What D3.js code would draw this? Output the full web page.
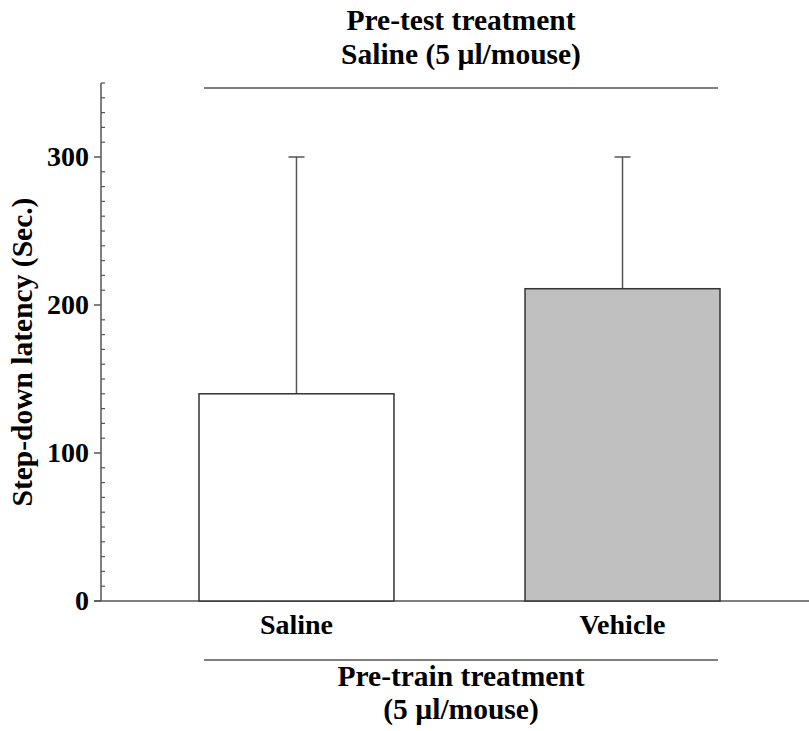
<!DOCTYPE html>
<html><head><meta charset="utf-8">
<script src="https://cdn.jsdelivr.net/npm/d3@7"></script>
<style>body{margin:0;background:#fff}svg{display:block}text{font-family:"Liberation Serif","Times New Roman",serif;font-weight:bold;fill:#000}</style>
</head><body><svg id="c" width="809" height="731"></svg>
<script>
const categories = ["Saline", "Vehicle"];
const means = [140, 211];
const errors = [160, 89];
const fills = ["#ffffff", "#c0c0c0"];
const majorTicks = [0, 100, 200, 300];
const topTitle = ["Pre-test treatment", "Saline (5 µl/mouse)"];
const bottomTitle = ["Pre-train treatment", "(5 µl/mouse)"];
const yLabel = "Step-down latency (Sec.)";

const svg = d3.select("#c");
const FS = 28, FT = 29.5;
const y = d3.scaleLinear().domain([0, 350]).range([601, 83]);
const x = d3.scaleBand().domain(categories).range([199, 720]).paddingInner(0.402).paddingOuter(0);
const axisX = 101;
const lc = "#555";

// y axis line
svg.append("line").attr("x1", axisX).attr("x2", axisX).attr("y1", y(0)).attr("y2", y(350)).attr("stroke", lc).attr("stroke-width", 1.5);
// x axis line
svg.append("line").attr("x1", axisX - 7).attr("x2", 809).attr("y1", y(0)).attr("y2", y(0)).attr("stroke", lc).attr("stroke-width", 1.5);
// minor ticks
const minor = d3.range(10, 351, 10).filter(v => v % 100 !== 0);
svg.selectAll(".minor").data(minor).enter().append("line")
  .attr("x1", axisX).attr("x2", axisX + 4).attr("y1", d => y(d)).attr("y2", d => y(d)).attr("stroke", lc).attr("stroke-width", 1.2);
// major ticks
svg.selectAll(".major").data(majorTicks).enter().append("line")
  .attr("x1", axisX - 7).attr("x2", axisX).attr("y1", d => y(d)).attr("y2", d => y(d)).attr("stroke", lc).attr("stroke-width", 1.5);
svg.selectAll(".ml").data(majorTicks).enter().append("text")
  .attr("x", axisX - 12).attr("y", d => y(d)).attr("dy", "0.33em").attr("text-anchor", "end").attr("font-size", FS).text(d => d);

// error bars
categories.forEach((c, i) => {
  const cx = x(c) + x.bandwidth() / 2;
  svg.append("line").attr("x1", cx).attr("x2", cx).attr("y1", y(means[i])).attr("y2", y(means[i] + errors[i])).attr("stroke", lc).attr("stroke-width", 1.5);
  svg.append("line").attr("x1", cx - 8).attr("x2", cx + 8).attr("y1", y(means[i] + errors[i])).attr("y2", y(means[i] + errors[i])).attr("stroke", lc).attr("stroke-width", 1.5);
});
// bars
svg.selectAll(".bar").data(categories).enter().append("rect")
  .attr("x", d => x(d)).attr("width", x.bandwidth())
  .attr("y", (d, i) => y(means[i])).attr("height", (d, i) => y(0) - y(means[i]))
  .attr("fill", (d, i) => fills[i]).attr("stroke", "#333").attr("stroke-width", 1.5);
// category labels
svg.selectAll(".cl").data(categories).enter().append("text")
  .attr("x", d => x(d) + x.bandwidth() / 2).attr("y", 634).attr("text-anchor", "middle").attr("font-size", FS).text(d => d);

// brackets
const bx1 = x(categories[0]) + 5, bx2 = x(categories[1]) + x.bandwidth() - 2;
svg.append("line").attr("x1", bx1).attr("x2", bx2).attr("y1", 88).attr("y2", 88).attr("stroke", lc).attr("stroke-width", 1.5);
svg.append("line").attr("x1", bx1).attr("x2", bx2).attr("y1", 660).attr("y2", 660).attr("stroke", lc).attr("stroke-width", 1.5);
const cxm = (bx1 + bx2) / 2;
svg.selectAll(".tt").data(topTitle).enter().append("text")
  .attr("x", cxm).attr("y", (d, i) => 30 + i * 34).attr("text-anchor", "middle").attr("font-size", FT).text(d => d);
svg.selectAll(".bt").data(bottomTitle).enter().append("text")
  .attr("x", cxm).attr("y", (d, i) => 686 + i * 33).attr("text-anchor", "middle").attr("font-size", FT).text(d => d);

svg.append("text").attr("transform", "translate(32,352) rotate(-90)").attr("text-anchor", "middle").attr("font-size", FT).text(yLabel);
</script></body></html>
